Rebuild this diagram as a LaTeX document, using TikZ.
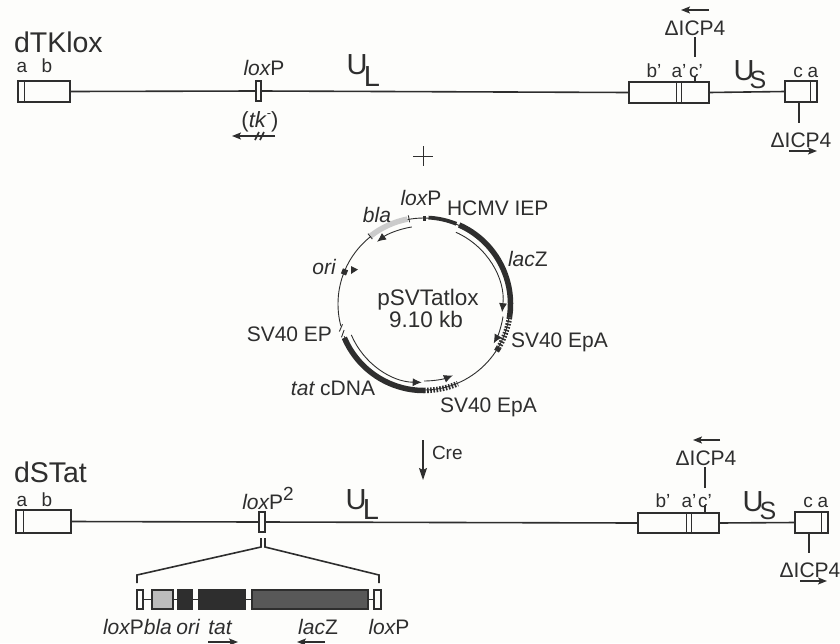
\documentclass[tikz,border=0pt]{standalone}
\usepackage{fontspec}
\setmainfont{Liberation Sans}
\usetikzlibrary{arrows.meta}
\definecolor{ink}{HTML}{2E2E2E}
\definecolor{paper}{HTML}{FDFDFB}
\newcommand\fs[1]{\fontsize{#1}{#1}\selectfont}
\newcommand\gbox[6][]{%
  \pgfmathsetmacro\gw{#5-#3}\pgfmathsetmacro\gh{#6-#4}%
  \pgfmathsetmacro\gx{(#5+#3)/2}\pgfmathsetmacro\gy{(#6+#4)/2}%
  \node[gene,minimum width=\gw pt,minimum height=\gh pt,#1] (#2) at (\gx,\gy) {};}
\tikzset{
  gene/.style={draw=ink,line width=1.6pt,fill=paper,inner sep=0pt,outer sep=0pt,rectangle},
  wire/.style={draw=ink,line width=1.6pt},
  thinw/.style={draw=ink,line width=1.3pt},
  txt/.style={text=ink,inner sep=0pt,outer sep=0pt,font=\fs{21}},
  small/.style={txt,font=\fs{19}},
  big/.style={txt,font=\fs{28.5}},
  uu/.style={txt,font=\fs{29}},
  ss/.style={txt,font=\fs{25}},
  arrowr/.style={draw=ink,line width=1.5pt,-{Stealth[length=9pt,width=7pt,inset=2pt]}},
  plas/.style={draw=ink,line width=0.9pt},
  heavy/.style={draw=ink,line width=5.5pt},
  hatchy/.style={draw=ink,line width=5.5pt,dash pattern=on 1.6pt off 1.5pt},
  inarrow/.style={draw=ink,line width=0.9pt,-{Latex[length=9pt,width=8pt]}},
}
\begin{document}
\begin{tikzpicture}[x=1pt,y=-1pt]
\useasboundingbox[fill=paper] (0,0) rectangle (840,643);

% ---------- dTKlox
\node[big,anchor=base west] (t1) at (14,52) {dTKlox};
\node[small,anchor=base] (a1) at (22,72) {a};
\node[small,anchor=base] (b1) at (47,72) {b};
\gbox{L1}{18}{81}{70}{102}
\gbox{X1}{256}{81}{261}{101}
\gbox{R1}{629}{82}{709}{103}
\gbox{S1}{785}{81}{817}{102}
\draw[wire] (L1.east) -- (X1.west);
\draw[wire] (X1.east) -- (R1.west);
\draw[wire] (R1.east) -- (S1.west);
\draw[thinw] (24.5,81) -- (24.5,102);
\draw[thinw] (676.5,82) -- (676.5,103) (681.5,82) -- (681.5,103);
\draw[thinw] (810.5,81) -- (810.5,102);
\node[txt,anchor=base] (lx1) at (264,75) {\itshape lox\upshape P};
\node[txt,font=\fs{22},anchor=base] (tk) at (260,127) {(\textit{tk}\raisebox{0.45em}{\fs{13}-})};
\coordinate (tkA) at (275,136);
\coordinate (tkB) at (232,136);
\draw[arrowr] (tkA) -- (tkB);
\draw[wire] (255,140) -- (259,132) (260,140) -- (264,132);
\node[uu,anchor=base] (UL1) at (357,74) {U};
\node[uu,anchor=base] (UL1s) at (372,86) {L};
\node[uu,anchor=base] (US1) at (744,80) {U};
\node[ss,anchor=base] (US1s) at (758,88) {S};
\node[small,anchor=base] (bp1) at (654,77) {b'};
\node[small,anchor=base] (ap1) at (679,77) {a'};
\node[small,anchor=base] (cp1) at (696,77) {c'};
\node[small,anchor=base] (c1) at (798,77) {c};
\node[small,anchor=base] (a1r) at (813,77) {a};
\node[txt,anchor=base] (d1) at (695,35) {ΔICP4};
\coordinate (d1a) at (709,10);
\coordinate (d1b) at (681,10);
\draw[arrowr] (d1a) -- (d1b);
\coordinate (tic1) at (695,37);
\draw[wire] (tic1) -- (695,57);
\draw[wire] (695,76) -- (695,82);
\coordinate (tic2) at (799,123);
\draw[wire] (799,102) -- (tic2);
\node[txt,anchor=base] (d2) at (801,147) {ΔICP4};
\coordinate (d2a) at (789,151);
\coordinate (d2b) at (817,151);
\draw[arrowr] (d2a) -- (d2b);

% ---------- plus
\coordinate (pc) at (423,156);
\draw[draw=ink,line width=0.8pt] (413,156) -- (433,156) (423,146) -- (423,166);

% ---------- plasmid
\begin{scope}[shift={(424,304)},y=1pt]
  \coordinate (c) at (0,0);
  \draw[plas] (c) circle[radius=86pt];
  \draw[heavy,line width=3.8pt] (87:86.5) arc[start angle=87,end angle=68,radius=86.5pt];
  \draw[heavy] (66:86.5) arc[start angle=66,end angle=-9,radius=86.5pt];
  \draw[hatchy] (-9:86.5) arc[start angle=-9,end angle=-30,radius=86.5pt];
  \draw[heavy] (-30:86.5) arc[start angle=-30,end angle=-33,radius=86.5pt];
  \draw[heavy] (203:86.5) arc[start angle=203,end angle=270,radius=86.5pt];
  \draw[hatchy] (270:86.5) arc[start angle=270,end angle=293,radius=86.5pt];
  \draw[draw=ink!25,line width=5.5pt] (128:86.5) arc[start angle=128,end angle=101,radius=86.5pt];
  \draw[plas] (100:83) -- (100:90) (128.5:83) -- (128.5:90);
  \draw[draw=paper,line width=4pt] (195:86) arc[start angle=195,end angle=202,radius=86pt];
  \draw[plas] (194:84) -- (198:89) (198:84) -- (202:89);
  \draw[draw=ink,line width=3pt] (90:83.5) -- (90:88.5);
  \draw[draw=ink,line width=5.5pt] (158:83) -- (158:88.5);
  \draw[inarrow] (99:78) arc[start angle=99,end angle=127,radius=78pt];
  \draw[inarrow] (66:78.5) arc[start angle=66,end angle=-6,radius=78.5pt];
  \draw[inarrow] (-9:80) arc[start angle=-9,end angle=-29.5,radius=80pt];
  \draw[inarrow] (203:79) arc[start angle=203,end angle=269,radius=78pt];
  \draw[inarrow] (270:77) arc[start angle=270,end angle=292,radius=77pt];
\end{scope}
\fill[ink] (351,266) -- (351,274) -- (358,269.5) -- cycle;
\node[txt,anchor=base] (lxp) at (421,205) {\itshape lox\upshape P};
\node[txt,anchor=base] (bla) at (377,222) {\itshape bla};
\node[txt,anchor=base west] (hc) at (447,215) {HCMV IEP};
\node[txt,anchor=base west] (lz) at (508,266) {\itshape lac\upshape Z};
\node[txt,anchor=base] (ori) at (324,274) {\itshape ori};
\node[txt,font=\fs{22.5},anchor=base] (p1) at (428,305) {pSVTatlox};
\node[txt,font=\fs{22.5},anchor=base] (p2) at (426,327) {9.10 kb};
\node[txt,anchor=base west] (e1) at (511,347) {SV40 EpA};
\node[txt,anchor=base east] (e2) at (332,341) {SV40 EP};
\node[txt,anchor=base] (td) at (333,395) {\itshape tat \upshape cDNA};
\node[txt,anchor=base west] (e3) at (440,412) {SV40 EpA};

% ---------- Cre
\coordinate (creA) at (423,440);
\coordinate (creB) at (423,480);
\draw[draw=ink,line width=1.3pt,-{Stealth[length=12pt,width=8pt,inset=2pt]}] (creA) -- (creB);
\node[small,anchor=base west] (cre) at (432,459) {Cre};

% ---------- dSTat
\node[big,anchor=base west] (t2) at (14,482) {dSTat};
\node[small,anchor=base] (a2) at (22,506) {a};
\node[small,anchor=base] (b2) at (47,506) {b};
\gbox{L2}{16}{510}{71}{533}
\gbox{X2}{259}{512}{265}{532}
\gbox{R2}{638}{513}{719}{533}
\gbox{S2}{795}{512}{828}{533}
\draw[wire] (L2.east) -- (X2.west);
\draw[wire] (X2.east) -- (R2.west);
\draw[wire] (R2.east) -- (S2.west);
\draw[thinw] (23.5,510) -- (23.5,533);
\draw[thinw] (686.5,513) -- (686.5,533) (691.5,513) -- (691.5,533);
\draw[thinw] (821.5,512) -- (821.5,533);
\node[txt,anchor=base] (lx2) at (268,509) {\itshape lox\upshape P\raisebox{0.42em}{\fs{19}2}};
\node[uu,anchor=base] (UL2) at (356,509) {U};
\node[uu,anchor=base] (UL2s) at (371,519) {L};
\node[uu,anchor=base] (US2) at (753,511) {U};
\node[ss,anchor=base] (US2s) at (768,519) {S};
\node[small,anchor=base] (bp2) at (663,507) {b'};
\node[small,anchor=base] (ap2) at (689,507) {a'};
\node[small,anchor=base] (cp2) at (705,507) {c'};
\node[small,anchor=base] (c2) at (808,507) {c};
\node[small,anchor=base] (a2r) at (823,507) {a};
\node[txt,anchor=base] (d3) at (706,465) {ΔICP4};
\coordinate (d3a) at (720,440);
\coordinate (d3b) at (693,440);
\draw[arrowr] (d3a) -- (d3b);
\coordinate (tic3) at (705,467);
\draw[wire] (tic3) -- (705,488);
\draw[wire] (705,505) -- (705,513);
\coordinate (tic4) at (809,553);
\draw[wire] (809,533) -- (tic4);
\node[txt,anchor=base] (d4) at (810,577) {ΔICP4};
\coordinate (d4a) at (800,581);
\coordinate (d4b) at (827,581);
\draw[arrowr] (d4a) -- (d4b);

% ---------- bracket
\coordinate (brL) at (261,538);
\coordinate (brR) at (265,538);
\draw[draw=ink,line width=1.6pt] (brL) -- (261,547) -- (137,575) -- (137,583);
\draw[draw=ink,line width=1.6pt] (brR) -- (265,547) -- (379,575) -- (379,583);

% ---------- insert
\gbox{ix1}{137}{590}{143}{609}
\gbox[fill=ink!32]{ibla}{152}{590}{173}{609}
\gbox[fill=ink]{iori}{178}{590}{192}{609}
\gbox[fill=ink]{itat}{199}{590}{245}{609}
\gbox[fill=ink!80]{ilac}{252}{590}{368}{609}
\gbox{ix2}{374}{590}{381}{609}
\draw[wire] (ix1.east) -- (ibla.west);
\draw[wire] (ibla.east) -- (iori.west);
\draw[wire] (iori.east) -- (itat.west);
\draw[wire] (itat.east) -- (ilac.west);
\draw[wire] (ilac.east) -- (ix2.west);
\node[txt,anchor=base west] (l1) at (103,634) {\itshape lox\upshape P\itshape bla};
\node[txt,anchor=base] (l2) at (188,634) {\itshape ori};
\node[txt,anchor=base] (l3) at (220,634) {\itshape tat};
\node[txt,anchor=base] (l4) at (318,634) {\itshape lac\upshape Z};
\node[txt,anchor=base] (l5) at (389,634) {\itshape lox\upshape P};
\coordinate (a1a) at (208,642);
\coordinate (a1b) at (238,642);
\coordinate (a2a) at (325,642);
\coordinate (a2b) at (297,642);
\draw[arrowr] (a1a) -- (a1b);
\draw[arrowr] (a2a) -- (a2b);
\end{tikzpicture}
\end{document}
